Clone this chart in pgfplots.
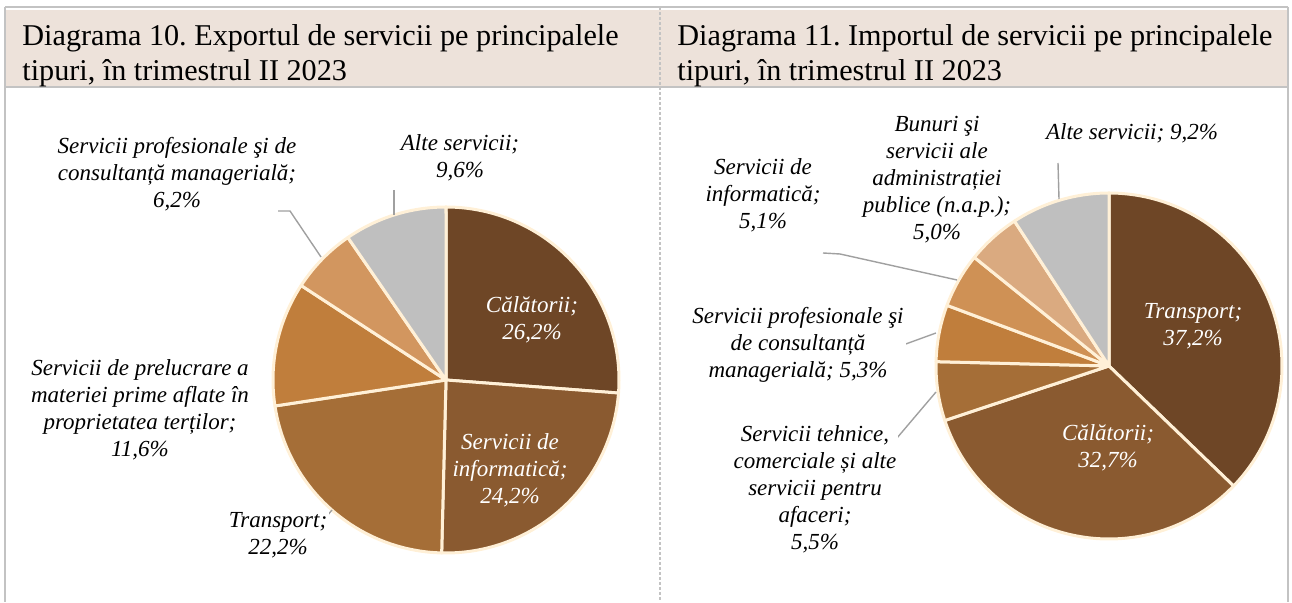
\documentclass[border=0pt]{standalone}
\usepackage{pgfplots}
\pgfplotsset{compat=1.18}
\usepackage{fontspec}
\setmainfont{Liberation Serif}
\frenchspacing
\definecolor{cDark}{RGB}{110,70,38}
\definecolor{cMed}{RGB}{138,90,48}
\definecolor{cOchre}{RGB}{165,110,55}
\definecolor{cOrange}{RGB}{192,126,60}
\definecolor{cLight}{RGB}{210,150,95}
\definecolor{cLight2}{RGB}{207,145,85}
\definecolor{cPale}{RGB}{218,170,128}
\definecolor{cGray}{RGB}{191,191,191}
\definecolor{sepc}{RGB}{255,240,215}
\definecolor{bandc}{RGB}{237,226,218}
\definecolor{framec}{RGB}{195,195,195}
\definecolor{leadc}{RGB}{160,160,160}
\newcommand\titlef{\fontsize{15.1}{18}\selectfont}
\newcommand\lbl{\fontsize{11.5}{13.5}\selectfont\itshape}
% #1 cx, #2 cy, #3 r, #4 list of value/colour (clockwise from 12 o'clock)
\newcommand\drawpie[4]{%
  \gdef\pcum{0}%
  \foreach \pv/\pc in {#4}{%
    \pgfmathsetmacro\pa{\pcum*3.6}%
    \pgfmathsetmacro\pb{(\pcum+\pv)*3.6}%
    \edef\ptemp{\noexpand\addplot[fill=\pc, draw=sepc, line width=1.5pt, line join=round, domain=\pa:\pb, samples=90, variable=\noexpand\t] ({#1+#3*sin(\noexpand\t)},{#2-#3*cos(\noexpand\t)}) -- (#1,#2) -- cycle;}%
    \ptemp
    \pgfmathsetmacro\pn{\pcum+\pv}\xdef\pcum{\pn}%
  }%
}
\begin{document}
\begin{tikzpicture}
\begin{axis}[
  width=646pt, height=301pt, scale only axis,
  xmin=0, xmax=1292, ymin=0, ymax=602, y dir=reverse,
  enlargelimits=false, axis lines=none, clip=false,
]
\path (axis cs:0,0) rectangle (axis cs:1292,602);
% frame and title bands
\fill[bandc] (axis cs:5,10) rectangle (axis cs:1288,86);
\draw[framec, line width=0.6pt] (axis cs:5,7) -- (axis cs:1288,7);
\draw[framec, line width=0.6pt] (axis cs:5,87) -- (axis cs:1288,87);
\draw[framec, line width=0.6pt] (axis cs:5,7) -- (axis cs:5,602);
\draw[framec, line width=0.6pt] (axis cs:1288,7) -- (axis cs:1288,602);
\draw[framec, line width=0.6pt, dash pattern=on 1.5pt off 1pt] (axis cs:660,7) -- (axis cs:660,602);
\node[anchor=base west, inner sep=0, font=\titlef] at (axis cs:22,46) {Diagrama 10. Exportul de servicii pe principalele};
\node[anchor=base west, inner sep=0, font=\titlef] at (axis cs:22,81) {tipuri, în trimestrul II 2023};
\node[anchor=base west, inner sep=0, font=\titlef] at (axis cs:677,46) {Diagrama 11. Importul de servicii pe principalele};
\node[anchor=base west, inner sep=0, font=\titlef] at (axis cs:677,81) {tipuri, în trimestrul II 2023};
% Diagrama 10: export
\drawpie{446}{380}{173}{26.2/cDark, 24.2/cMed, 22.2/cOchre, 11.6/cOrange, 6.2/cLight, 9.6/cGray}
% Diagrama 11: import
\drawpie{1109}{366}{173}{37.2/cDark, 32.7/cMed, 5.5/cOchre, 5.3/cOrange, 5.1/cLight2, 5.0/cPale, 9.2/cGray}
% leader lines
\draw[leadc, line width=0.7pt] (axis cs:394,190) -- (axis cs:394,215);
\draw[leadc, line width=0.7pt] (axis cs:278,211) -- (axis cs:290,211) -- (axis cs:321,257);
\draw[leadc, line width=0.7pt] (axis cs:327,516) -- (axis cs:332,510);
\draw[leadc, line width=0.7pt] (axis cs:1058,163) -- (axis cs:1059,199);
\draw[leadc, line width=0.7pt] (axis cs:823,253) -- (axis cs:840,254) -- (axis cs:957,280);
\draw[leadc, line width=0.7pt] (axis cs:903,345) -- (axis cs:936,333);
\draw[leadc, line width=0.7pt] (axis cs:880,458) -- (axis cs:936,392);
% labels, export
\node[font=\lbl, align=center] at (axis cs:460,158) {Alte servicii;\\9,6\%};
\node[font=\lbl, align=center] at (axis cs:177,174) {Servicii profesionale şi de\\consultanță managerială;\\6,2\%};
\node[font=\lbl, align=center] at (axis cs:140,410) {Servicii de prelucrare a\\materiei prime aflate în\\proprietatea terților;\\11,6\%};
\node[font=\lbl, align=center, fill=white, inner sep=1pt] at (axis cs:278,535) {Transport;\\22,2\%};
\node[font=\lbl, align=center, text=white] at (axis cs:532,320) {Călătorii;\\26,2\%};
\node[font=\lbl, align=center, text=white] at (axis cs:510,470) {Servicii de\\informatică;\\24,2\%};
% labels, import
\node[font=\lbl, align=center] at (axis cs:1132,133) {Alte servicii; 9,2\%};
\node[font=\lbl, align=center] at (axis cs:937,180) {Bunuri şi\\servicii ale\\administrației\\publice (n.a.p.);\\5,0\%};
\node[font=\lbl, align=center] at (axis cs:763,195) {Servicii de\\informatică;\\5,1\%};
\node[font=\lbl, align=center, fill=white, inner sep=1pt] at (axis cs:798,345) {Servicii profesionale şi\\de consultanță\\managerială; 5,3\%};
\node[font=\lbl, align=center, fill=white, inner sep=1pt] at (axis cs:815,489) {Servicii tehnice,\\comerciale și alte\\servicii pentru\\afaceri;\\5,5\%};
\node[font=\lbl, align=center, text=white] at (axis cs:1193,326) {Transport;\\37,2\%};
\node[font=\lbl, align=center, text=white] at (axis cs:1108,448) {Călătorii;\\32,7\%};
\end{axis}
\end{tikzpicture}
\end{document}
